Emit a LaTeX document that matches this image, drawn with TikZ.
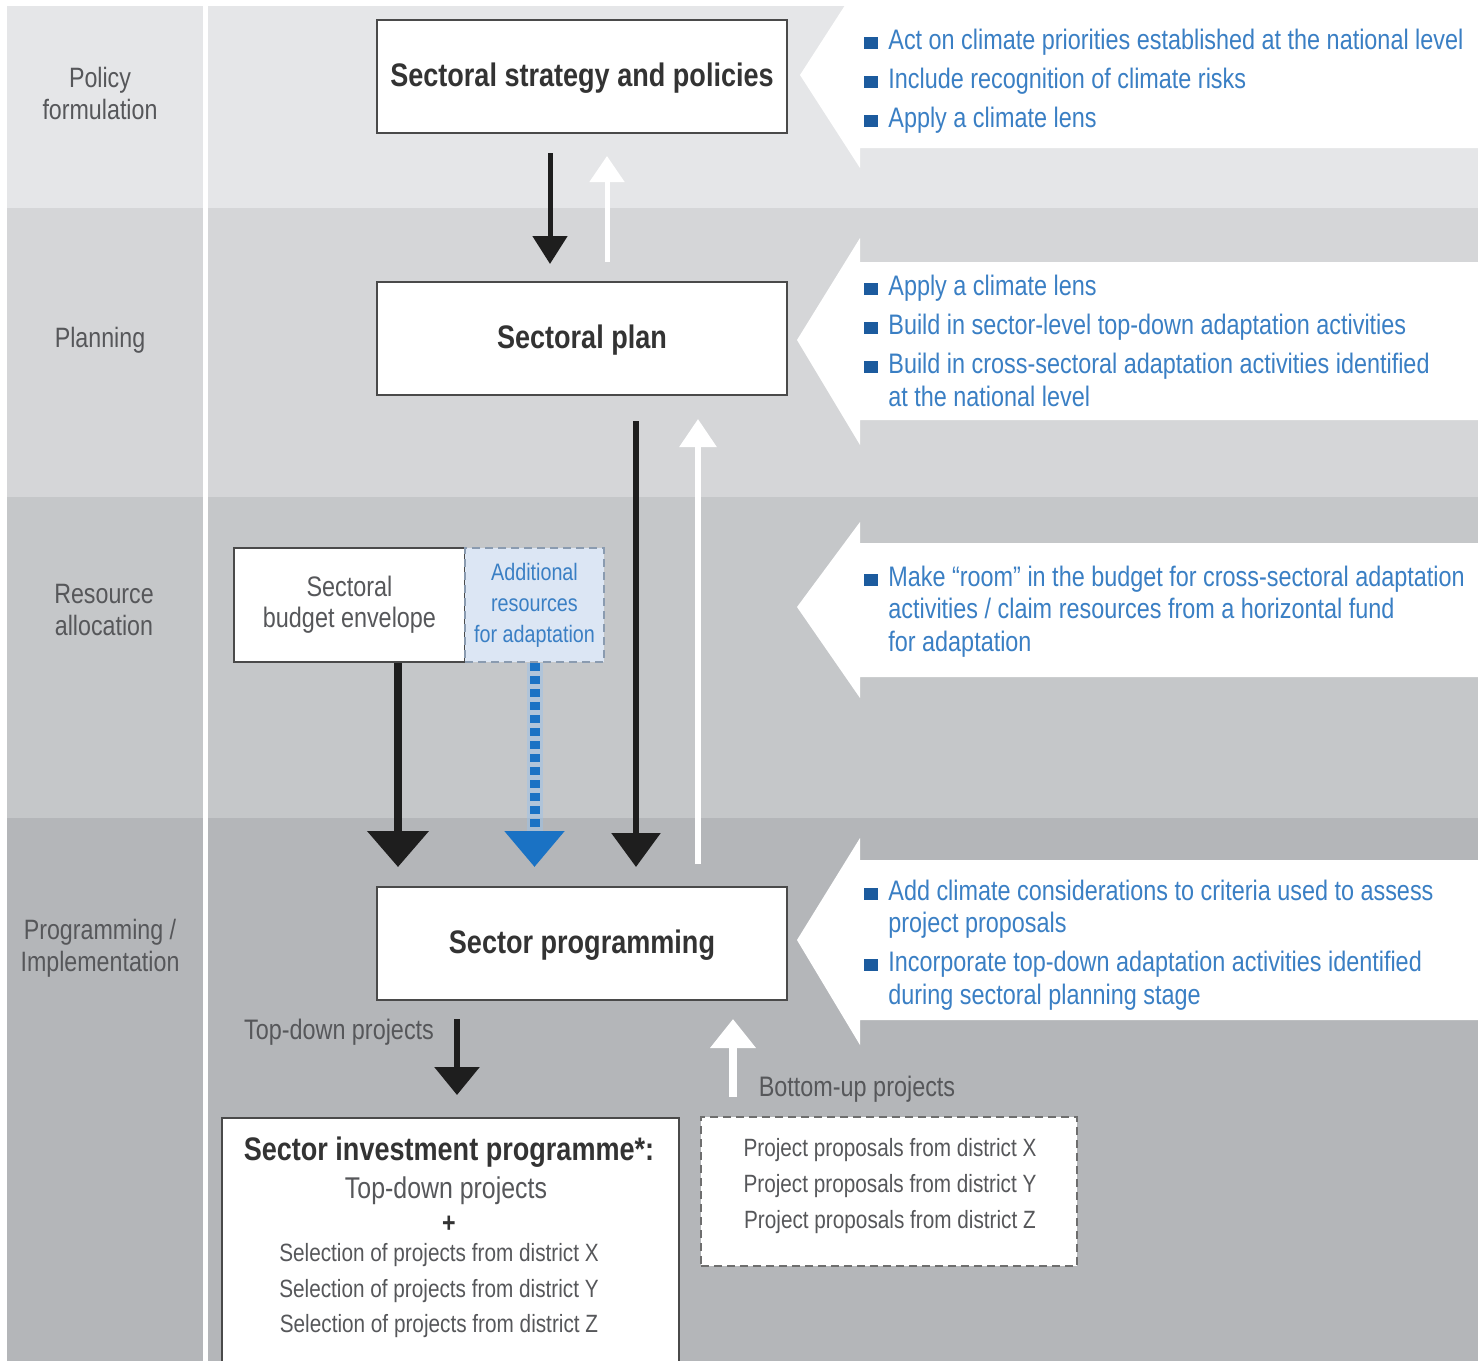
\documentclass[tikz,border=0pt]{standalone}
\usepackage{fontspec}
\setmainfont{Liberation Sans}[FakeStretch=0.83]
\usetikzlibrary{arrows.meta,calc}

\definecolor{bandA}{HTML}{E5E6E8}
\definecolor{bandB}{HTML}{D5D6D8}
\definecolor{bandC}{HTML}{C5C7C9}
\definecolor{bandD}{HTML}{B4B6B9}
\definecolor{txtblue}{HTML}{3A7FC4}
\definecolor{bulblue}{HTML}{1C5B9E}
\definecolor{labgray}{HTML}{56575A}
\definecolor{boxline}{HTML}{4A4A4A}
\definecolor{titlegray}{HTML}{333333}
\definecolor{adfill}{HTML}{DCE6F4}
\definecolor{adline}{HTML}{8A9BB0}
\definecolor{dotblue}{HTML}{1A72C4}
\definecolor{glowblue}{HTML}{9CC3EA}
\definecolor{arrowblk}{HTML}{1E1E1E}

% square bullet in front of each action item
\newcommand{\bsq}{{\color{bulblue}\rule{7pt}{6pt}}\hspace{5pt}}

\tikzset{
  stage/.style={text=labgray, font=\fontsize{14}{16}\selectfont, align=center, inner sep=0pt},
  mainbox/.style={draw=boxline, line width=1pt, fill=white, inner sep=0pt,
    minimum width=205pt, minimum height=56.5pt, text depth=2pt,
    font=\fontsize{16.3}{18}\selectfont\bfseries, text=titlegray},
  item/.style={text=txtblue, font=\fontsize{14.1}{16}\selectfont, anchor=base west, inner sep=0pt},
  plain/.style={text=labgray, font=\fontsize{14.1}{16}\selectfont, anchor=base, inner sep=0pt},
  small/.style={text=labgray, font=\fontsize{12.5}{14}\selectfont, anchor=base, inner sep=0pt},
  callout/.style={fill=white, draw=none},
  downblk/.style={draw=arrowblk, line width=#1},
  upwht/.style={draw=white, line width=#1},
}

\begin{document}
\begin{tikzpicture}[x=0.5pt,y=-0.5pt]
\useasboundingbox (0,0) rectangle (1480,1361);
\fill[white] (0,0) rectangle (1480,1361);
\begin{scope}
\clip (0,0) rectangle (1480,1361);

% stage bands
\fill[bandA] (7,6) rectangle (1478,208);
\fill[bandB] (7,208) rectangle (1478,497);
\fill[bandC] (7,497) rectangle (1478,818);
\fill[bandD] (7,818) rectangle (1478,1361);
\draw[white, line width=2.5pt] (205.5,6) -- (205.5,1361);

% white pointer shapes carrying the action items
\fill[callout] (1480,6) -- (860,6) -- (860,-18) -- (800,75) -- (860,168) -- (860,148) -- (1480,148) -- cycle;
\fill[callout] (1480,262) -- (860,262) -- (860,238) -- (797,340) -- (860,445) -- (860,420) -- (1480,420) -- cycle;
\fill[callout] (1480,543) -- (860,543) -- (860,522) -- (797,607) -- (860,698) -- (860,677) -- (1480,677) -- cycle;
\fill[callout] (1480,860) -- (860,860) -- (860,838) -- (797,940) -- (860,1045) -- (860,1020) -- (1480,1020) -- cycle;

% stage names
\node[stage] (s1) at (100,93) {Policy\\formulation};
\node[stage] (s2) at (100,340) {Planning};
\node[stage] (s3) at (104,610) {Resource\\allocation};
\node[stage] (s4) at (100,948) {Programming /\\Implementation};

% main boxes
\node[mainbox] (strat) at (582,76.5) {Sectoral strategy and policies};
\node[mainbox] (plan) at (582,338.5) {Sectoral plan};
\node[mainbox] (prog) at (582,943.5) {Sector programming};

% budget boxes
\node[draw=boxline, line width=1pt, fill=white, inner sep=0pt, minimum width=115.5pt, minimum height=57pt,
      align=center, text=labgray, font=\fontsize{14.1}{15.5}\selectfont] (budget) at (349.5,605) {Sectoral\\budget envelope};
\node[draw=adline, dashed, dash pattern=on 4pt off 2.5pt, line width=1pt, fill=adfill, inner sep=0pt,
      minimum width=69.5pt, minimum height=57pt, align=center, text=txtblue,
      font=\fontsize{11.9}{15.5}\selectfont] (add) at (534.5,605) {Additional\\resources\\for adaptation};

% lower boxes
\node[draw=boxline, line width=1pt, fill=white, inner sep=0pt, minimum width=228.5pt, minimum height=132pt,
      anchor=north] (inv) at (450.5,1117) {};
\node[draw=boxline!80, dashed, dash pattern=on 4pt off 2.5pt, line width=1pt, fill=white, inner sep=0pt,
      minimum width=188pt, minimum height=74.5pt] (prop) at (889,1191.5) {};

\node[text=titlegray, font=\fontsize{16.3}{18}\selectfont\bfseries, anchor=base, inner sep=0pt] (invt) at (449,1160) {Sector investment programme*:};
\node[plain, font=\fontsize{15}{16}\selectfont] (invtd) at (446,1198) {Top-down projects};
\node[text=titlegray, font=\fontsize{14}{16}\selectfont\bfseries, anchor=base, inner sep=0pt] (invplus) at (449,1232) {+};
\node[small] (selx) at (439,1261) {Selection of projects from district X};
\node[small] (sely) at (439,1297) {Selection of projects from district Y};
\node[small] (selz) at (439,1332) {Selection of projects from district Z};

\node[small] (ppx) at (890,1156) {Project proposals from district X};
\node[small] (ppy) at (890,1192) {Project proposals from district Y};
\node[small] (ppz) at (890,1228) {Project proposals from district Z};

\node[plain] (tdl) at (339,1039) {Top-down projects};
\node[plain] (bul) at (857,1096) {Bottom-up projects};

% flows between strategy and plan
\draw[downblk=2.5pt, -{Triangle[width=17pt,length=14pt]}, shorten <=9.5pt, shorten >=8.5pt]
  ([xshift=-16pt]strat.south) -- ([xshift=-16pt]plan.north);
\draw[upwht=2.5pt, -{Triangle[width=17pt,length=13pt]}, shorten <=9.5pt, shorten >=11pt]
  ([xshift=12.5pt]plan.north) -- ([xshift=12.5pt]strat.south);

% flows between plan and programming
\draw[downblk=3pt, -{Triangle[width=24pt,length=17pt]}, shorten <=12.5pt, shorten >=9.5pt]
  ([xshift=27pt]plan.south) -- ([xshift=27pt]plan.south |- prog.north);
\coordinate (upA) at ([xshift=58pt]prog.north);
\draw[upwht=3pt, -{Triangle[width=18pt,length=14pt]}, shorten <=11pt, shorten >=11.5pt]
  (upA) -- (upA |- plan.south);

% budget flows
\coordinate (bdA) at ([xshift=24.25pt]budget.south);
\draw[downblk=4pt, -{Triangle[width=30pt,length=18pt]}, shorten >=9.5pt]
  (bdA) -- (bdA |- prog.north);
\draw[glowblue, opacity=0.5, line width=8pt, shorten >=26pt] (add.south) -- (add.south |- prog.north);
\draw[dotblue, line width=5pt, dash pattern=on 4pt off 2.5pt, -{Triangle[width=29pt,length=18pt]}, shorten >=9.5pt]
  (add.south) -- (add.south |- prog.north);

% project flows
\coordinate (tdA) at ([xshift=-62.5pt]prog.south);
\draw[downblk=3pt, -{Triangle[width=22pt,length=14pt]}, shorten <=9pt, shorten >=11pt]
  (tdA) -- (tdA |- inv.north);
\coordinate (buA) at ([xshift=75.5pt]prog.south);
\draw[upwht=4pt, -{Triangle[width=22pt,length=14.5pt]}, shorten <=9.5pt, shorten >=9pt]
  (buA |- prop.north) -- (buA);

% action items
\node[item] (p1a) at (864,49) {\bsq Act on climate priorities established at the national level};
\node[item] (p1b) at (864,88) {\bsq Include recognition of climate risks};
\node[item] (p1c) at (864,127) {\bsq Apply a climate lens};

\node[item] (p2a) at (864,295) {\bsq Apply a climate lens};
\node[item] (p2b) at (864,334) {\bsq Build in sector-level top-down adaptation activities};
\node[item] (p2c) at (864,373) {\bsq Build in cross-sectoral adaptation activities identified};
\node[item] (p2d) at (888,406) {at the national level};

\node[item] (p3a) at (864,586) {\bsq Make “room” in the budget for cross-sectoral adaptation};
\node[item] (p3b) at (888,618) {activities / claim resources from a horizontal fund};
\node[item] (p3c) at (888,651) {for adaptation};

\node[item] (p4a) at (864,900) {\bsq Add climate considerations to criteria used to assess};
\node[item] (p4b) at (888,932) {project proposals};
\node[item] (p4c) at (864,971) {\bsq Incorporate top-down adaptation activities identified};
\node[item] (p4d) at (888,1004) {during sectoral planning stage};
\end{scope}
\end{tikzpicture}
\end{document}
